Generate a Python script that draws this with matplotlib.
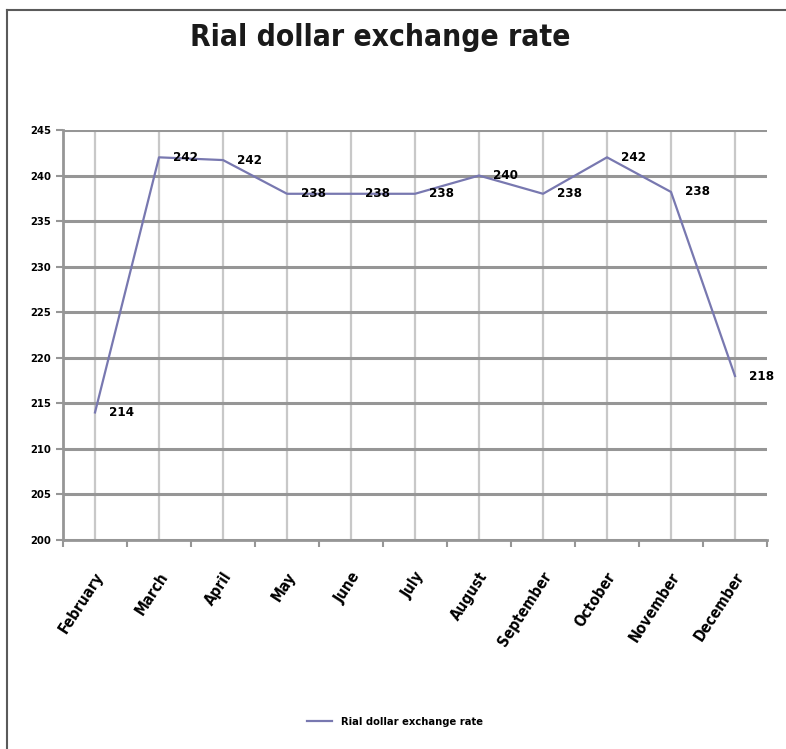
import matplotlib
matplotlib.use('Agg')
import matplotlib.pyplot as plt
from matplotlib.lines import Line2D

# data
months = ['February', 'March', 'April', 'May', 'June', 'July',
          'August', 'September', 'October', 'November', 'December']
rates = [214, 242, 241.7, 238, 238, 238, 240, 238, 242, 238.2, 218]
point_labels = ['214', '242', '242', '238', '238', '238', '240', '238', '242', '238', '218']
yticks = [200, 205, 210, 215, 220, 225, 230, 235, 240, 245]
series_name = 'Rial dollar exchange rate'

plt.rcParams['font.family'] = ['DejaVu Sans']
plt.rcParams['font.stretch'] = 'condensed'

W, H = 786, 749
fig = plt.figure(figsize=(W / 100, H / 100), dpi=100)

# outer chart border (left and top only visible)
fig.add_artist(Line2D([7 / W, 7 / W], [0, 1 - 10 / H], color='#5a5a5a', lw=1.5))
fig.add_artist(Line2D([7 / W, 1], [1 - 10 / H, 1 - 10 / H], color='#5a5a5a', lw=1.5))

ax = fig.add_axes([63 / W, 1 - 540 / H, (767 - 63) / W, (540 - 130) / H])

x = [i + 0.5 for i in range(len(months))]
line, = ax.plot(x, rates, color='#7878b0', lw=1.6)

ax.set_xlim(0, len(months))
ax.set_ylim(yticks[0], yticks[-1])

# gridlines
ax.set_yticks(yticks)
ax.set_xticks(range(len(months) + 1))
ax.set_xticks([i * 0.5 for i in range(2 * len(months) + 1)], minor=True)
ax.grid(axis='x', which='minor', color='#c8c8c8', lw=1.6)
ax.grid(axis='y', which='major', color='#969696', lw=2.2)
ax.set_axisbelow(True)

for side in ['top', 'right']:
    ax.spines[side].set_visible(False)
for side in ['left', 'bottom']:
    ax.spines[side].set_color('#969696')
    ax.spines[side].set_linewidth(2)

ax.tick_params(axis='both', which='major', direction='out', length=5, width=1.5, color='#969696')
ax.tick_params(axis='x', which='minor', length=0)
ax.set_xticklabels([])
ax.set_yticklabels([str(v) for v in yticks], fontsize=8, fontweight='bold')

# category labels, centred under each point
for xi, m in zip(x, months):
    ax.annotate(m, xy=(xi, yticks[0]), xytext=(4, -24), textcoords='offset points',
                rotation=57, rotation_mode='anchor', ha='right', va='center',
                fontsize=11, fontweight='bold', annotation_clip=False)

# data labels
for xi, yi, lab in zip(x, rates, point_labels):
    ax.annotate(lab, xy=(xi, yi), xytext=(19, 0), textcoords='offset points',
                ha='center', va='center', fontsize=9.5, fontweight='bold')

fig.text(380 / W, 1 - 38 / H, 'Rial dollar exchange rate', ha='center', va='center',
         fontsize=21.5, fontweight='bold', color='#1a1a1a')

fig.legend([line], [series_name], loc='center', bbox_to_anchor=(395 / W, 1 - 722 / H),
           frameon=False, handlelength=2.3, prop={'size': 8, 'weight': 'bold'})

fig.savefig('out.png', dpi=100)
